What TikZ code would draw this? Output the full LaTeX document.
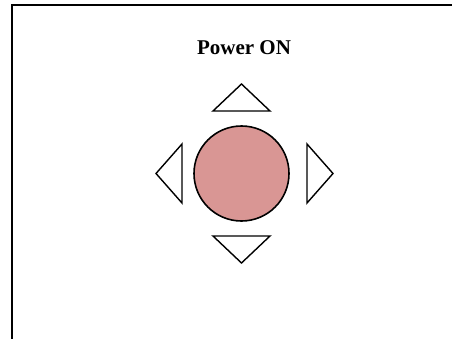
\documentclass[tikz,border=0pt]{standalone}
\usepackage{fontspec}
\setmainfont{Liberation Serif}
\usepackage{tikz}
\usetikzlibrary{positioning}
\definecolor{buttonred}{RGB}{217,150,148}

\begin{document}
\begin{tikzpicture}[x=1pt,y=1pt,thick,line join=miter,
      button/.style={circle,draw,line width=1.6pt,fill=buttonred,minimum size=95pt,inner sep=0pt},
      arrow tri/.style={draw,line width=1.4pt,fill=white},
      title/.style={font=\fontsize{21}{24}\selectfont\bfseries}]
      \useasboundingbox (0,0) rectangle (452,338);
      % frame, cut off at the right and at the bottom
      \coordinate (frame bl) at (11.5,-5);
      \coordinate (frame tl) at (11.5,333);
      \coordinate (frame tr) at (460,333);
      \draw[line width=2pt] (frame bl) -- (frame tl) -- (frame tr);
      \node[button] (btn) at (241.5,164.5) {};
      \node[title] (label) at (244,290) {Power ON};

      % arrows round the button
      \draw[arrow tri] ([shift={(-28.5,62.5)}]btn.center) -- ([shift={(0,89.5)}]btn.center)
        -- ([shift={(28.5,62.5)}]btn.center) -- cycle;
      \draw[arrow tri] ([shift={(-28.5,-62.5)}]btn.center) -- ([shift={(0,-89.5)}]btn.center)
        -- ([shift={(28.5,-62.5)}]btn.center) -- cycle;
      \draw[arrow tri] ([shift={(-59.5,29.5)}]btn.center) -- ([shift={(-85.5,0)}]btn.center)
        -- ([shift={(-59.5,-29.5)}]btn.center) -- cycle;
      \draw[arrow tri] ([shift={(65.5,29.5)}]btn.center) -- ([shift={(91.5,0)}]btn.center)
        -- ([shift={(65.5,-29.5)}]btn.center) -- cycle;
    \end{tikzpicture}
\end{document}
